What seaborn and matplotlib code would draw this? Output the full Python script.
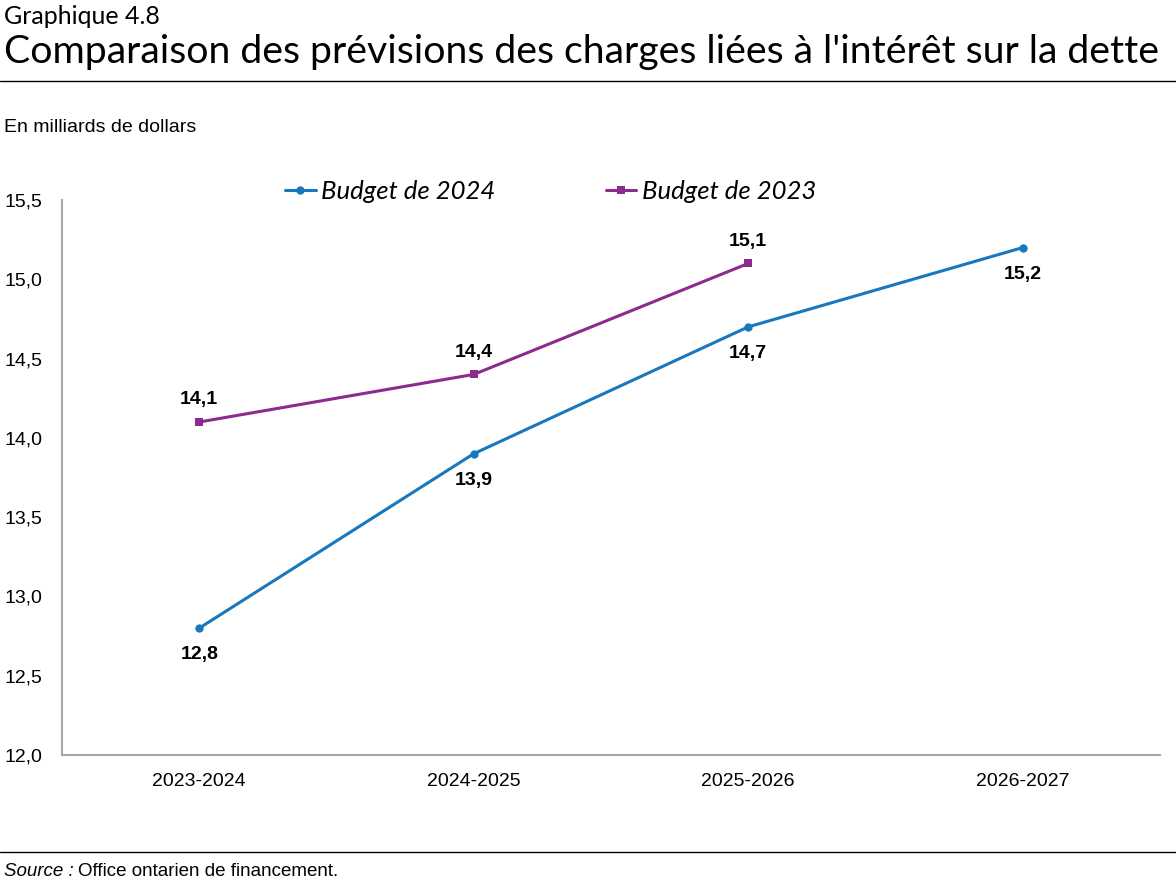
import matplotlib
matplotlib.use("Agg")
import matplotlib.pyplot as plt
import matplotlib.font_manager as fm
import seaborn as sns
import pandas as pd
from matplotlib.lines import Line2D

# ── Data ────────────────────────────────────────────────────────────────────
years = ["2023-2024", "2024-2025", "2025-2026", "2026-2027"]
budget_2024 = [12.8, 13.9, 14.7, 15.2]
budget_2023 = [14.1, 14.4, 15.1]
y_ticks = [12.0, 12.5, 13.0, 13.5, 14.0, 14.5, 15.0, 15.5]

BLUE = "#1878be"
PURPLE = "#8c2a8e"
GREY = "#a6a6a6"

sns.set_theme(style="white")
names = {f.name for f in fm.fontManager.ttflist}
narrow = "Liberation Sans Narrow" if "Liberation Sans Narrow" in names else "Liberation Sans"
plt.rcParams["font.family"] = [narrow, "DejaVu Sans"]
plt.rcParams["text.color"] = "black"
TITLE_FONT = ["Lato", "DejaVu Sans"]

df24 = pd.DataFrame({"x": range(len(budget_2024)), "val": budget_2024})
df23 = pd.DataFrame({"x": range(len(budget_2023)), "val": budget_2023})

fig = plt.figure(figsize=(11.76, 8.88), dpi=100)
ax = fig.add_axes([62 / 1176, 1 - 755 / 888, (1160 - 62) / 1176, (755 - 200) / 888])

sns.lineplot(data=df24, x="x", y="val", ax=ax, color=BLUE, linewidth=2.2,
             marker="o", markersize=6, markeredgewidth=0)
sns.lineplot(data=df23, x="x", y="val", ax=ax, color=PURPLE, linewidth=2.2,
             marker="s", markersize=6, markeredgewidth=0)

# data labels
for i, v in enumerate(budget_2024):
    ax.annotate(f"{v:.1f}".replace(".", ","), (i, v), xytext=(0, -13),
                textcoords="offset points", ha="center", va="top",
                fontsize=14, fontweight="bold", color="black")
for i, v in enumerate(budget_2023):
    ax.annotate(f"{v:.1f}".replace(".", ","), (i, v), xytext=(0, 10),
                textcoords="offset points", ha="center", va="bottom",
                fontsize=14, fontweight="bold", color="black")

ax.set_xlim(-0.5, 3.5)
ax.set_ylim(12.0, 15.5)
ax.set_xticks(list(range(len(years))) + [3.5])
ax.set_xticklabels(years + [""])
ax.set_yticks(y_ticks)
ax.set_yticklabels([f"{t:.1f}".replace(".", ",") for t in y_ticks])
ax.set_xlabel("")
ax.set_ylabel("")
ax.tick_params(axis="both", labelsize=14, labelcolor="black", length=5,
               width=1.5, direction="out", color=GREY, pad=8)
ax.tick_params(axis="y", pad=9)
for side in ["top", "right"]:
    ax.spines[side].set_visible(False)
for side in ["left", "bottom"]:
    ax.spines[side].set_color(GREY)
    ax.spines[side].set_linewidth(1.5)
ax.grid(False)

handles = [
    Line2D([], [], color=BLUE, marker="o", markersize=6, linewidth=2.2, markeredgewidth=0),
    Line2D([], [], color=PURPLE, marker="s", markersize=6, linewidth=2.2, markeredgewidth=0),
]
leg = ax.legend(handles, ["Budget de 2024", "Budget de 2023"], ncol=2,
                loc="center left", bbox_to_anchor=(0.203, 1.0145), frameon=False,
                borderaxespad=0, borderpad=0,
                handlelength=1.2, handletextpad=0.2, columnspacing=4.3,
                prop=fm.FontProperties(family=TITLE_FONT, style="italic", size=18.5))
for t in leg.get_texts():
    t.set_color("black")

# ── Titles and rules ────────────────────────────────────────────────────────
fig.text(0.003, 1 - 17 / 888, "Graphique 4.8", fontsize=18, family=TITLE_FONT,
         va="center", ha="left")
fig.text(0.003, 1 - 52 / 888, "Comparaison des prévisions des charges liées à l'intérêt sur la dette",
         fontsize=28.3, family=TITLE_FONT, va="center", ha="left")
fig.add_artist(Line2D([0, 1], [1 - 81 / 888] * 2, color="black", linewidth=1))
fig.text(0.003, 1 - 127 / 888, "En milliards de dollars", fontsize=14,
         va="center", ha="left")
fig.add_artist(Line2D([0, 1], [1 - 852 / 888] * 2, color="black", linewidth=1))
fig.text(0.003, 1 - 871 / 888, "Source :", fontsize=13.5, style="italic",
         va="center", ha="left")
fig.text(0.066, 1 - 871 / 888, "Office ontarien de financement.", fontsize=13.5,
         va="center", ha="left")

fig.savefig("out.png", dpi=100)
